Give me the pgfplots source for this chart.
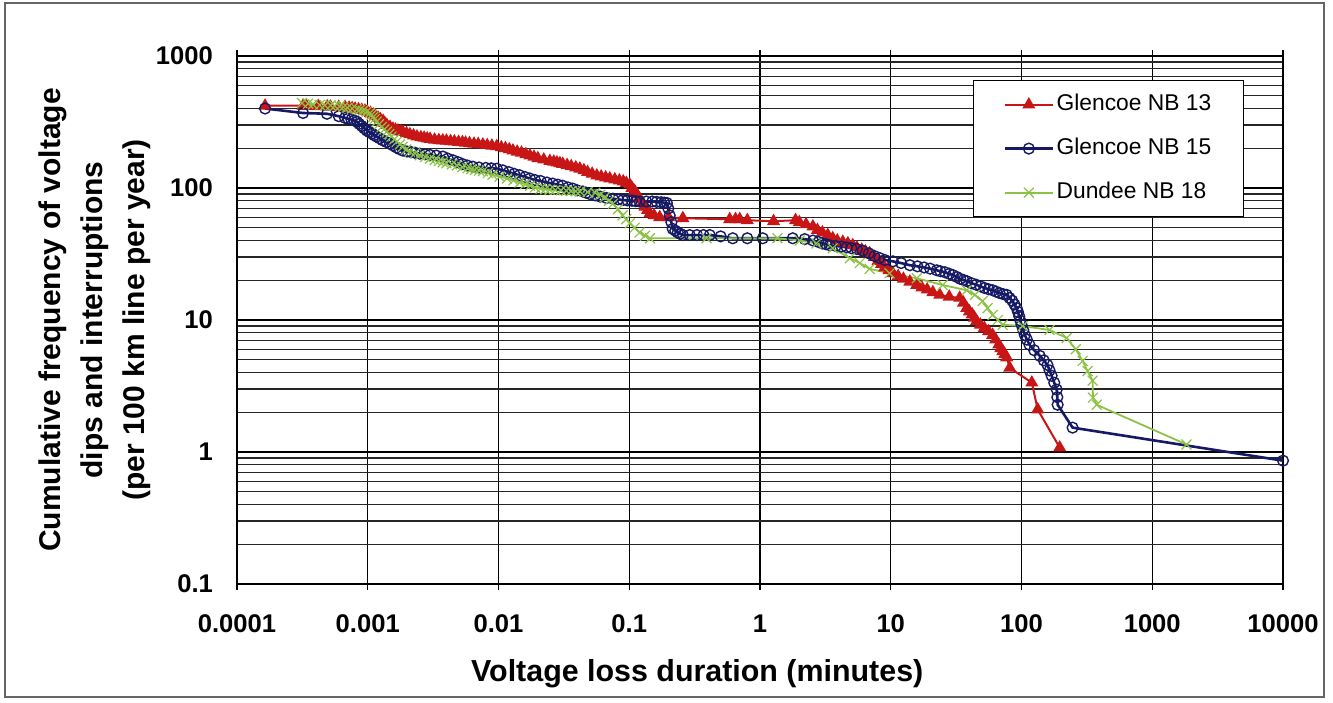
\documentclass[border=0pt]{standalone}
\usepackage{pgfplots}
\pgfplotsset{compat=1.18}
\usepackage{fontspec}
\setmainfont{Liberation Sans}
\definecolor{cred}{RGB}{200,22,22}
\definecolor{cblue}{RGB}{22,26,100}
\definecolor{cgreen}{RGB}{140,195,70}
\begin{document}
\begin{tikzpicture}
\begin{axis}[
 xmode=log, ymode=log,
 scale only axis, width=523pt, height=264pt,
 xmin=1e-4, xmax=1e4, ymin=0.1, ymax=1000,
 xtick={1e-4,1e-3,1e-2,1e-1,1,10,100,1000,10000},
 xticklabels={0.0001,0.001,0.01,0.1,1,10,100,1000,10000},
 ytick={0.1,1,10,100,1000},
 yticklabels={0.1,1,10,100,1000},
 xmajorgrids, ymajorgrids, yminorgrids,
 major grid style={black, line width=0.6pt},
 minor grid style={black!85, line width=0.6pt},
 axis line style={black, line width=0.8pt},
 tick align=outside, major tick length=3pt, minor tick length=0pt,
 ytick style={draw=none},
 xtick style={black, line width=0.6pt},
 /pgf/number format/assume math mode=true,
 tick label style={font=\fontsize{12.8}{15}\selectfont\bfseries},
 xticklabel style={yshift=-9pt},
 yticklabel style={xshift=-5.5pt},
 xlabel={Voltage loss duration (minutes)},
 xlabel style={at={(axis description cs:0.44,-0.1705)}, anchor=center, font=\fontsize{15.2}{18}\selectfont\bfseries},
 ylabel={Cumulative frequency of voltage\\dips and interruptions\\(per 100 km line per year)},
 ylabel style={at={(axis description cs:-0.1358,0.5)}, anchor=center, rotate=0, align=center, font=\fontsize{15}{21}\selectfont\bfseries},
 legend style={at={(axis description cs:0.7036,0.9545)}, anchor=north west, draw=black, line width=0.6pt, fill=white,
   inner xsep=15pt, inner ysep=4.5pt, row sep=7pt,
   nodes={inner xsep=1.25pt, inner ysep=2pt, text height=8.5pt, text depth=2.5pt},
   font=\fontsize{11.4}{13.7}\selectfont, cells={anchor=west}},
 legend image code/.code={\draw[mark repeat=2,mark phase=2] plot coordinates {(0pt,0pt) (12pt,0pt) (24pt,0pt)};},
]
\addplot[cred, line width=1pt, mark=triangle*, mark size=2.8pt, mark options={solid}] coordinates {
(1.64e-4,420) (3.2e-4,420) (3.4e-4,418) (4.2e-4,416) (4.9e-4,415) (5.2e-4,412) (6.0e-4,411) (6.7e-4,410) (7.2e-4,405) (7.6e-4,402)
(8.0e-4,398) (8.5e-4,394) (9.0e-4,390) (9.5e-4,385) (9.9e-4,380) (1.05e-3,370) (1.1e-3,360) (1.15e-3,350) (1.2e-3,340) (1.25e-3,331)
(1.31e-3,322) (1.35e-3,310) (1.4e-3,300) (1.48e-3,290) (1.56e-3,281) (1.63e-3,276) (1.7e-3,272) (1.78e-3,268) (1.86e-3,265) (1.98e-3,260)
(2.1e-3,255) (2.24e-3,250) (2.38e-3,245) (2.55e-3,242) (2.7e-3,240) (2.85e-3,237) (3.0e-3,235) (3.25e-3,232) (3.5e-3,230) (3.75e-3,229)
(4.0e-3,228) (4.3e-3,226) (4.6e-3,225) (4.95e-3,223) (5.3e-3,222) (5.6e-3,220) (6.0e-3,218) (6.5e-3,216) (7.0e-3,215) (7.6e-3,213)
(8.2e-3,211) (8.9e-3,209) (9.7e-3,207) (0.0105,203) (0.0113,200) (0.0121,196) (0.0129,192) (0.0139,188) (0.015,185) (0.0162,180)
(0.0174,176) (0.0187,172) (0.020,168) (0.0222,164) (0.0247,160) (0.0265,158) (0.028,156) (0.0295,154) (0.031,152) (0.0335,149)
(0.036,146) (0.039,143) (0.0419,140) (0.045,136) (0.048,132) (0.052,128) (0.0565,124) (0.061,122) (0.066,120) (0.071,118)
(0.0776,116) (0.084,114) (0.09,112) (0.095,109) (0.101,106) (0.105,100) (0.11,95) (0.115,89) (0.12,83) (0.126,77)
(0.132,72) (0.138,68) (0.144,64) (0.155,62) (0.171,60) (0.2,60) (0.257,59) (0.587,58) (0.65,58) (0.70,58)
(0.80,57) (1.27,56) (1.87,57) (2.0,55) (2.25,53) (2.54,51) (2.75,48) (3.0,46) (3.3,44) (3.6,41.6)
(3.9,40) (4.3,39) (4.7,38) (5.12,36.8) (5.5,35.5) (6.0,34) (6.4,33) (6.9,32) (7.5,30) (8.0,28)
(8.5,26.5) (9.0,25) (9.7,23.8) (10.4,22.6) (11.4,21.5) (12.5,20.5) (14,19.5) (15.8,18.4) (17.3,17.6) (19,17)
(21,16.2) (23.7,15.5) (28,15) (33.7,14.7) (36,13.5) (38.1,12.3) (40,11.6) (42,11) (43.7,10.4) (45.4,9.8)
(48.5,9.2) (52,8.7) (56,8.2) (60.2,7.7) (63.5,7.1) (67,6.5) (69.5,6.1) (72,5.8) (74.5,5.5) (77.1,5.2)
(81.3,4.34) (120,3.35) (133,2.1) (196,1.08)
};
\addlegendentry{Glencoe NB 13}
\addplot[cblue, line width=1.3pt, mark=o, mark size=2.7pt, mark options={solid, line width=0.7pt}] coordinates {
(1.64e-4,400) (3.2e-4,370) (4.88e-4,365) (6.0e-4,350) (6.7e-4,340) (7.1e-4,335) (7.5e-4,330) (7.9e-4,324) (8.26e-4,318) (8.6e-4,306)
(9.0e-4,295) (9.4e-4,283) (9.86e-4,272) (1.03e-3,265) (1.08e-3,258) (1.12e-3,251) (1.17e-3,245) (1.23e-3,238) (1.3e-3,230) (1.39e-3,223)
(1.48e-3,217) (1.56e-3,210) (1.65e-3,203) (1.75e-3,197) (1.86e-3,192) (2.0e-3,189) (2.15e-3,187) (2.3e-3,185) (2.5e-3,182) (2.75e-3,180)
(3.0e-3,178) (3.35e-3,176) (3.76e-3,173) (4.1e-3,167) (4.5e-3,162) (4.9e-3,157) (5.3e-3,152) (5.8e-3,148) (6.37e-3,145) (7.1e-3,143)
(8.0e-3,142) (8.8e-3,141) (9.72e-3,140) (0.0108,136) (0.012,132) (0.0132,128) (0.0145,125) (0.016,121) (0.0174,118) (0.019,115)
(0.021,113) (0.0235,110) (0.026,108) (0.0285,106) (0.031,104) (0.034,101) (0.037,99) (0.04,96) (0.0442,94) (0.047,92)
(0.05,90) (0.055,88) (0.06,86) (0.067,84) (0.075,83) (0.082,82) (0.0894,81) (0.097,80.5) (0.105,80) (0.112,79.5)
(0.12,79) (0.135,79) (0.15,79) (0.162,78.5) (0.175,78) (0.185,77.5) (0.194,77) (0.199,70) (0.204,62) (0.21,55)
(0.215,49) (0.225,47.5) (0.235,46) (0.245,45) (0.257,44) (0.29,44) (0.33,44) (0.37,44) (0.413,44) (0.5,43)
(0.619,41.6) (0.8,41.6) (1.05,41.6) (1.78,41.6) (2.2,41) (2.54,40) (2.8,39) (3.0,38) (3.2,37.5) (3.42,36.8)
(3.8,36.4) (4.2,36) (4.6,35.5) (5.0,35) (5.5,34.5) (6.1,33.5) (6.8,32) (7.5,30.5) (8.2,29.5) (9.0,28.5)
(10.4,27.8) (12,27) (14,26) (16,25.5) (18,25) (20,24.5) (22.5,23.8) (24,23.4) (26,23) (28,22.4)
(29.8,21.9) (32,21.2) (34,20.5) (36,20.1) (38.1,19.7) (41.5,19) (45,18.5) (48.5,18) (52,17.5) (56,17.1)
(60.2,16.8) (64,16.4) (68,16) (72.5,15.7) (77.1,15.5) (81,14.7) (85,14) (88.5,13.1) (91.8,12.3) (94,11.5)
(96,10.7) (98,9.9) (100,9.2) (103,8.4) (106,7.7) (110,7.1) (115,6.5) (125,5.9) (138,5.35) (148,4.95)
(158,4.57) (164,4.15) (170,3.78) (178,3.35) (186,2.97) (188,2.6) (189,2.28) (246,1.53) (10000,0.86)
};
\addlegendentry{Glencoe NB 15}
\addplot[cgreen, line width=0.9pt, mark=x, mark size=3.5pt, mark options={solid, line width=0.6pt}] coordinates {
(3.14e-4,440) (3.5e-4,435) (3.8e-4,430) (4.3e-4,425) (4.7e-4,423) (5.2e-4,422) (5.6e-4,418) (6.1e-4,415) (6.5e-4,410) (7.0e-4,405)
(7.6e-4,400) (8.26e-4,395) (8.7e-4,390) (9.2e-4,385) (9.8e-4,378) (1.04e-3,370) (1.07e-3,358) (1.1e-3,345) (1.13e-3,332) (1.17e-3,318)
(1.22e-3,304) (1.28e-3,290) (1.34e-3,278) (1.4e-3,267) (1.46e-3,256) (1.52e-3,245) (1.6e-3,234) (1.67e-3,224) (1.76e-3,214) (1.85e-3,205)
(1.97e-3,196) (2.1e-3,189) (2.3e-3,183) (2.5e-3,177) (2.75e-3,172) (2.99e-3,167) (3.25e-3,163) (3.5e-3,160) (3.75e-3,157) (4.0e-3,154)
(4.4e-3,151) (4.8e-3,148) (5.3e-3,144) (5.8e-3,141) (6.2e-3,139) (6.6e-3,137) (7.1e-3,135.5) (7.6e-3,134) (8.3e-3,130) (9.0e-3,126)
(0.0102,122) (0.0116,118) (0.013,114) (0.0145,110) (0.016,107) (0.0174,104) (0.019,101) (0.021,99) (0.0228,98) (0.0247,97)
(0.0272,96.5) (0.03,96) (0.033,95.5) (0.036,95) (0.039,94.5) (0.042,94) (0.048,93) (0.055,92) (0.06,89) (0.065,85)
(0.07,80) (0.075,76) (0.082,69) (0.089,62) (0.095,58) (0.101,54) (0.11,50) (0.12,46) (0.132,43.5) (0.144,41.6)
(0.39,41.6) (1.36,41.6) (2.01,40) (2.7,38) (3.6,35) (4.86,29.4) (5.8,27) (6.9,24.4) (9.8,22.6) (15.8,20.7)
(25,18.4) (38.1,16.8) (44,15.5) (50.5,13.9) (55,12.3) (60.2,10.9) (66,10) (71.8,9.2) (102,9.0) (164,8.4)
(222,7.3) (260,6) (294,4.9) (320,4.1) (350,3.47) (352,2.58) (376,2.28) (1830,1.14)
};
\addlegendentry{Dundee NB 18}
\end{axis}
\path ([xshift=-118.5pt,yshift=-59pt]current axis.south west) rectangle ([xshift=25pt,yshift=28pt]current axis.north east);
\draw[black!60, line width=0.6pt] ([xshift=-116pt,yshift=-56.5pt]current axis.south west) rectangle ([xshift=20.5pt,yshift=26.5pt]current axis.north east);
\end{tikzpicture}
\end{document}
